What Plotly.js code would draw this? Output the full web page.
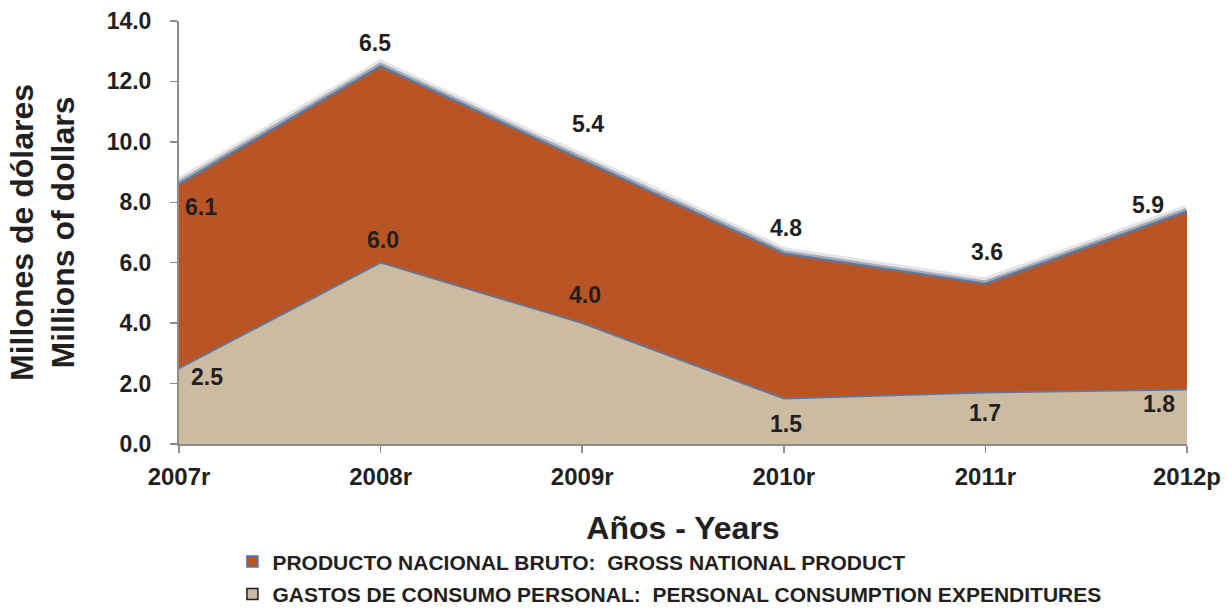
<!DOCTYPE html>
<html>
<head>
<meta charset="utf-8">
<script src="https://cdn.plot.ly/plotly-3.0.1.min.js"></script>
<style>html,body{margin:0;padding:0;background:#fff;}#chart{width:1226px;height:609px;}</style>
</head>
<body>
<div id="chart"></div>
<script>
// ---- data ----
const years = ['2007r', '2008r', '2009r', '2010r', '2011r', '2012p'];
const consumo = [2.5, 6.0, 4.0, 1.5, 1.7, 1.8];   // Gastos de consumo personal
const pnb = [6.1, 6.5, 5.4, 4.8, 3.6, 5.9];       // Producto nacional bruto
const yTicks = [0, 2, 4, 6, 8, 10, 12, 14];
const nameConsumo = 'GASTOS DE CONSUMO PERSONAL:&nbsp; PERSONAL CONSUMPTION EXPENDITURES';
const namePnb = 'PRODUCTO NACIONAL BRUTO:&nbsp; GROSS NATIONAL PRODUCT';

// ---- styles / label offsets (pixels) ----
const orange = '#B95425';
const beige = '#CBBBA1';
const edge = '#62789A';
const txt = '#231F20';
const font = 'Liberation Sans, Arial, sans-serif';
const pnbShift = [[22, -23], [-6, 23], [6, 36], [2, 26], [2, 32], [-39, 6]];
const conShift = [[28, -9], [2, 23], [3, 28], [2, -25], [0, -20], [-28, -14]];

const totals = consumo.map((c, i) => c + pnb[i]);

const traces = [
  // soft shadow above the top edge
  {x: years, y: totals, type: 'scatter', mode: 'lines', showlegend: false, hoverinfo: 'skip',
   line: {color: 'rgba(95,105,125,0.18)', width: 13}},
  {x: years, y: totals, type: 'scatter', mode: 'lines', showlegend: false, hoverinfo: 'skip',
   line: {color: 'rgba(95,105,125,0.45)', width: 7}},
  {x: years, y: consumo, type: 'scatter', mode: 'lines', stackgroup: 'one', showlegend: false,
   fillcolor: beige, line: {color: edge, width: 1.8}, name: nameConsumo},
  {x: years, y: pnb, type: 'scatter', mode: 'lines', stackgroup: 'one', showlegend: false,
   fillcolor: orange, line: {color: edge, width: 2.4}, name: namePnb},
  // legend entries
  {x: [null], y: [null], type: 'scatter', mode: 'markers', name: namePnb, legendgroup: 'a',
   marker: {symbol: 'square', size: 11, color: orange, line: {color: '#3A7BC8', width: 1.5}}},
  {x: [null], y: [null], type: 'scatter', mode: 'markers', name: nameConsumo, legendgroup: 'b',
   marker: {symbol: 'square', size: 11, color: beige, line: {color: '#231F20', width: 1.5}}}
];

const annotations = [];
years.forEach((yr, i) => {
  annotations.push({x: yr, y: totals[i], text: pnb[i].toFixed(1), showarrow: false,
    xshift: pnbShift[i][0], yshift: pnbShift[i][1],
    font: {family: font, size: 23, color: txt, weight: 'bold'}});
  annotations.push({x: yr, y: consumo[i], text: consumo[i].toFixed(1), showarrow: false,
    xshift: conShift[i][0], yshift: conShift[i][1],
    font: {family: font, size: 23, color: txt, weight: 'bold'}});
});

const layout = {
  width: 1226, height: 609,
  margin: {l: 179, r: 39, t: 21, b: 165, autoexpand: false},
  paper_bgcolor: '#fff', plot_bgcolor: '#fff',
  font: {family: font, color: txt},
  showlegend: true,
  xaxis: {
    type: 'category', range: [0, 5], showgrid: false, zeroline: false,
    showline: true, linecolor: '#8C8C8C', linewidth: 2,
    ticks: 'outside', ticklen: 7, tickcolor: '#8C8C8C', tickwidth: 1.5,
    tickfont: {family: font, size: 24, color: txt, weight: 'bold'},
    ticklabelstandoff: 3,
    title: {text: 'Años - Years', standoff: 28,
            font: {family: font, size: 32, color: txt, weight: 'bold'}}
  },
  yaxis: {
    range: [0, 14], tickvals: yTicks, tickformat: '.1f', showgrid: false, zeroline: false,
    showline: true, linecolor: '#8C8C8C', linewidth: 2,
    ticks: 'outside', ticklen: 7, tickcolor: '#8C8C8C', tickwidth: 1.5,
    tickfont: {family: font, size: 23, color: txt, weight: 'bold'},
    ticklabelstandoff: 14,
    title: {text: 'Millones de dólares<br>Millions of dollars', standoff: 22,
            font: {family: font, size: 32, color: txt, weight: 'bold'}}
  },
  legend: {
    x: 0.053, xanchor: 'left', y: -0.403, yanchor: 'bottom',
    orientation: 'v', traceorder: 'grouped', tracegroupgap: 2,
    font: {family: font, size: 21, color: txt, weight: 'bold'},
    bgcolor: 'rgba(0,0,0,0)', borderwidth: 0
  },
  annotations: annotations
};

Plotly.newPlot('chart', traces, layout, {displayModeBar: false, staticPlot: true});
</script>
</body>
</html>
